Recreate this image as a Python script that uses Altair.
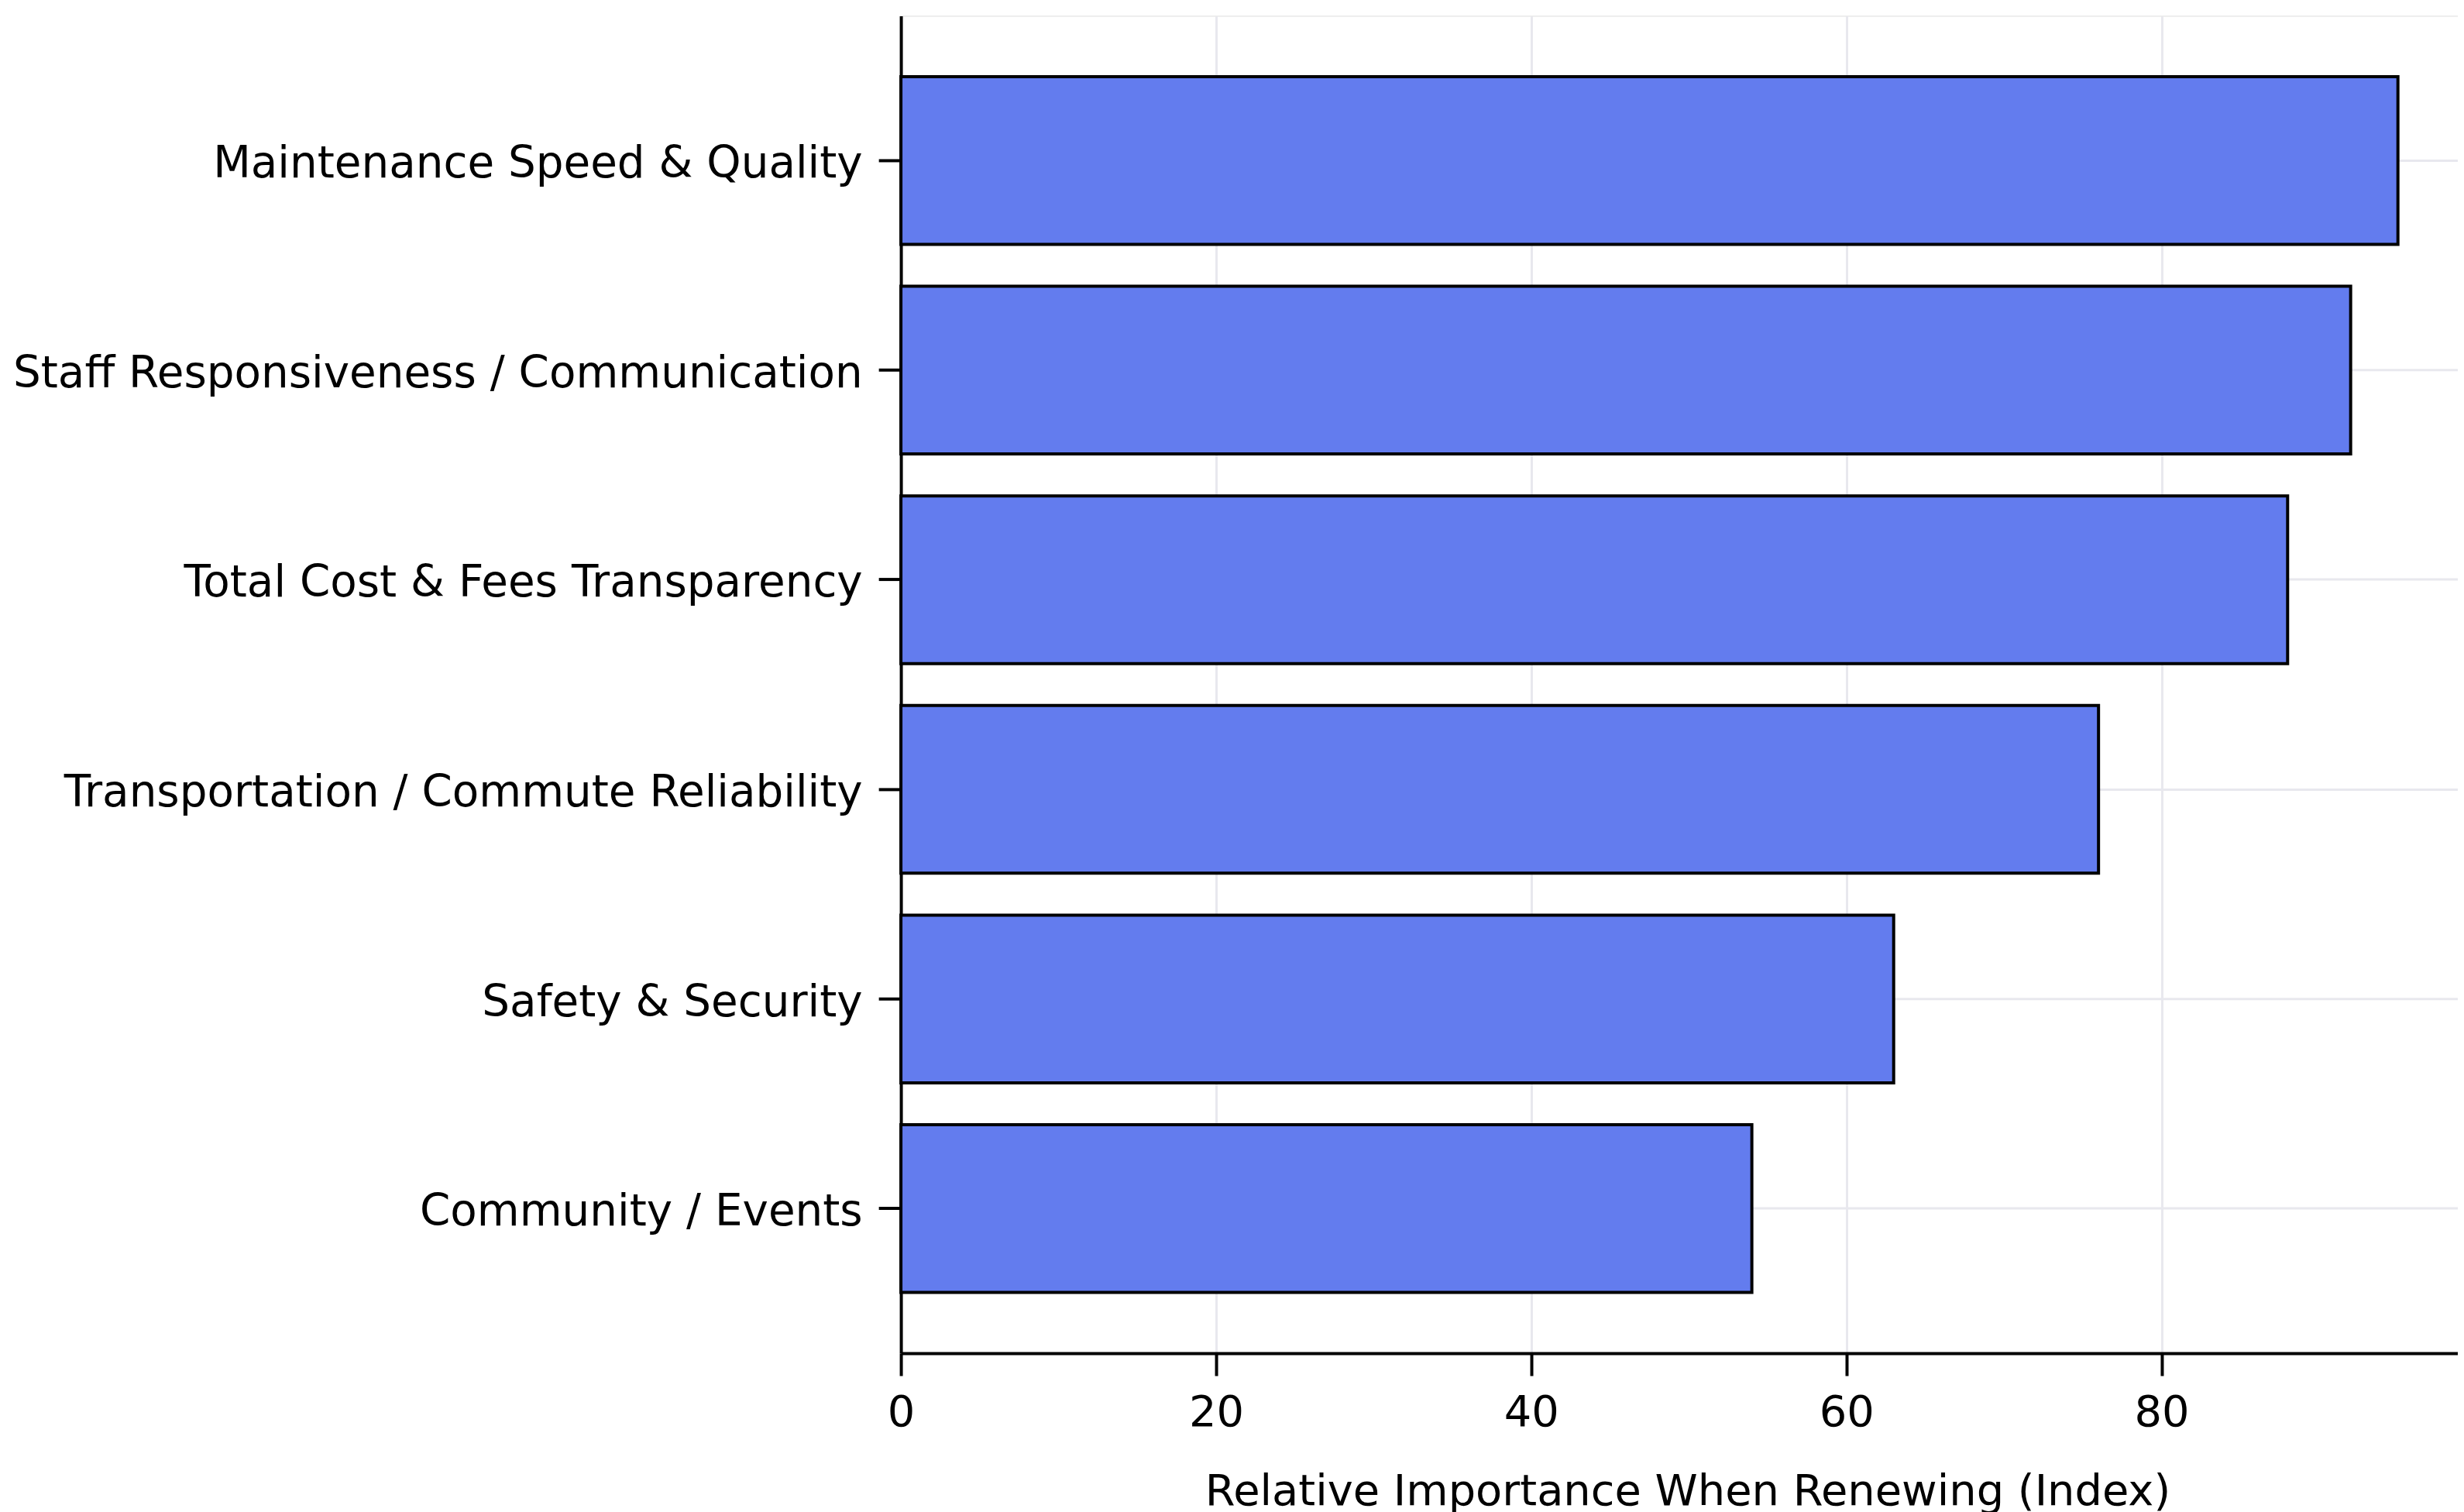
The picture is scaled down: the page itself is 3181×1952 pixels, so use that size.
import altair as alt
import pandas as pd

categories = [
    "Maintenance Speed & Quality",
    "Staff Responsiveness / Communication",
    "Total Cost & Fees Transparency",
    "Transportation / Commute Reliability",
    "Safety & Security",
    "Community / Events",
]
values = [95, 92, 88, 76, 63, 54]
x_ticks = [0, 20, 40, 60, 80]

df = pd.DataFrame({"factor": categories, "importance": values})

FONT = "DejaVu Sans"

chart = (
    alt.Chart(df)
    .mark_bar(color="#637CEE", stroke="black", strokeWidth=4)
    .encode(
        x=alt.X(
            "importance:Q",
            scale=alt.Scale(domain=[0, 98.8], nice=False, zero=True),
            axis=alt.Axis(
                title="Relative Importance When Renewing (Index)",
                values=x_ticks,
                format="d",
                grid=True,
                gridColor="#e8e8ee",
                gridWidth=3,
                domainColor="black",
                domainWidth=4,
                tickColor="black",
                tickWidth=4,
                tickSize=29,
                labelFont=FONT,
                labelFontSize=56,
                labelColor="black",
                labelPadding=21,
                labelFlush=False,
                titleFont=FONT,
                titleFontSize=56,
                titleFontWeight="normal",
                titleColor="black",
                titlePadding=47,
                titleX=1018,
            ),
        ),
        y=alt.Y(
            "factor:N",
            sort=None,
            scale=alt.Scale(paddingInner=0.2, paddingOuter=0.29),
            axis=alt.Axis(
                title=None,
                grid=True,
                bandPosition=0.5,
                gridColor="#e8e8ee",
                gridWidth=3,
                domainColor="black",
                domainWidth=4,
                tickColor="black",
                tickWidth=4,
                tickSize=29,
                labelFont=FONT,
                labelFontSize=56.5,
                labelColor="black",
                labelPadding=21,
                labelOffset=5,
                labelLimit=0,
            ),
        ),
    )
    .properties(
        width=2015,
        height=1731,
        autosize=alt.AutoSizeParams(type="none"),
        padding={"left": 1158, "top": 10, "right": 0, "bottom": 203},
    )
    .configure_view(stroke=None)
    .configure(background="white")
)

chart.save("out.html", embed_options={"renderer": "svg", "actions": False})
